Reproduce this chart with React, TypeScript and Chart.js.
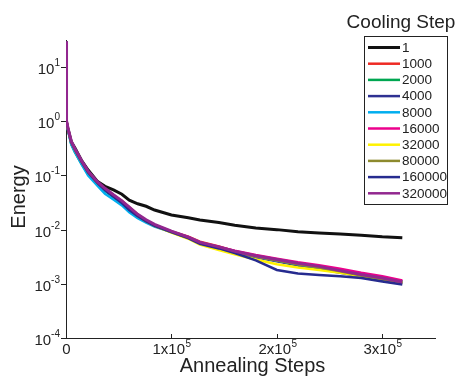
import React, { useEffect, useRef } from "react";
import { Chart, registerables } from "chart.js";

Chart.register(...registerables);

const STEPS = [0, 500, 2000, 5000, 8500, 15000, 21000, 30000, 37000, 45000, 53000, 60000, 68000, 76000, 84000, 100000, 116000, 127000, 145000, 160000, 180000, 200000, 220000, 240000, 260000, 280000, 300000, 319000];

const COOLING = ["1", "1000", "2000", "4000", "8000", "16000", "32000", "80000", "160000", "320000"];
const COLORS = ["#111111", "#ee2a24", "#00a651", "#2e3192", "#00aeef", "#ec008c", "#fff200", "#8d8a2e", "#262b8f", "#92278f"];

const E_1 = [1.0, 0.89, 0.71, 0.42, 0.32, 0.186, 0.126, 0.077, 0.063, 0.054, 0.045, 0.035, 0.030, 0.027, 0.023, 0.0186, 0.0166, 0.0151, 0.0135, 0.0120, 0.0107, 0.0100, 0.0091, 0.0087, 0.0083, 0.0079, 0.0074, 0.0071];
const E_1000 = [30, 1.0, 0.70, 0.40, 0.29, 0.172, 0.112, 0.072, 0.054, 0.042, 0.034, 0.026, 0.019, 0.0148, 0.0122, 0.0093, 0.0074, 0.0060, 0.0049, 0.0040, 0.0033, 0.0028, 0.0024, 0.0021, 0.0018, 0.00152, 0.00132, 0.00112];
const E_2000 = [30, 0.98, 0.68, 0.38, 0.27, 0.160, 0.105, 0.069, 0.052, 0.040, 0.031, 0.023, 0.0175, 0.0143, 0.0118, 0.0092, 0.0072, 0.0057, 0.0047, 0.0039, 0.0032, 0.0027, 0.0022, 0.0019, 0.0017, 0.00143, 0.00124, 0.00108];
const E_4000 = [30, 1.0, 0.70, 0.40, 0.29, 0.170, 0.110, 0.071, 0.053, 0.041, 0.031, 0.023, 0.0176, 0.0142, 0.0117, 0.0090, 0.0070, 0.0055, 0.0045, 0.0038, 0.0031, 0.0026, 0.0022, 0.0019, 0.0016, 0.00138, 0.00118, 0.00103];
const E_8000 = [30, 0.97, 0.67, 0.37, 0.27, 0.158, 0.100, 0.064, 0.046, 0.036, 0.028, 0.021, 0.0163, 0.0135, 0.0114, 0.0090, 0.0072, 0.0058, 0.0047, 0.0039, 0.0032, 0.0027, 0.0023, 0.0020, 0.0017, 0.00150, 0.00130, 0.00112];
const E_16000 = [30, 1.0, 0.71, 0.41, 0.30, 0.176, 0.114, 0.073, 0.055, 0.042, 0.032, 0.024, 0.018, 0.0146, 0.0121, 0.0092, 0.0073, 0.0058, 0.0048, 0.0041, 0.0034, 0.0029, 0.0025, 0.0022, 0.0019, 0.00160, 0.00138, 0.00115];
const E_32000 = [30, 1.0, 0.71, 0.41, 0.30, 0.178, 0.116, 0.074, 0.056, 0.043, 0.032, 0.024, 0.0178, 0.0143, 0.0117, 0.0088, 0.0068, 0.0053, 0.0042, 0.0035, 0.0028, 0.0023, 0.0020, 0.0018, 0.0016, 0.00140, 0.00122, 0.00106];
const E_80000 = [30, 1.0, 0.71, 0.41, 0.30, 0.177, 0.114, 0.073, 0.055, 0.042, 0.032, 0.024, 0.018, 0.0144, 0.0119, 0.0090, 0.0070, 0.0056, 0.0046, 0.0038, 0.0032, 0.0027, 0.0023, 0.0020, 0.0017, 0.00142, 0.00122, 0.00104];
const E_160000 = [30, 1.0, 0.71, 0.41, 0.30, 0.176, 0.113, 0.072, 0.054, 0.041, 0.031, 0.023, 0.0176, 0.0142, 0.0118, 0.0090, 0.0070, 0.0055, 0.0045, 0.0037, 0.0027, 0.0018, 0.00155, 0.00145, 0.00138, 0.00128, 0.00110, 0.00097];
const E_320000 = [30, 1.02, 0.73, 0.43, 0.31, 0.185, 0.120, 0.076, 0.058, 0.044, 0.034, 0.026, 0.0192, 0.0152, 0.0125, 0.0094, 0.0073, 0.0058, 0.0048, 0.0040, 0.0033, 0.0028, 0.0024, 0.0021, 0.00175, 0.00148, 0.00128, 0.00108];

const SERIES = [E_1, E_1000, E_2000, E_4000, E_8000, E_16000, E_32000, E_80000, E_160000, E_320000];

const Y_TICK_EXP = ["-4", "-3", "-2", "-1", "0", "1"];
const X_TICKS = [0, 100000, 200000, 300000];
const X_TICK_BASE = ["0", "1x10", "2x10", "3x10"];
const X_TICK_SUP = ["", "5", "5", "5"];

const FONT = '"Liberation Sans", Arial, sans-serif';

const decorPlugin = {
  id: "decor",
  afterDraw(chart: any) {
    const ctx = chart.ctx;
    const xs = chart.scales.x;
    const ys = chart.scales.y;
    const area = chart.chartArea;
    ctx.save();
    ctx.fillStyle = "#222";
    ctx.strokeStyle = "#222";
    ctx.lineWidth = 1;

    // y ticks + labels
    Y_TICK_EXP.forEach((e) => {
      const y = Math.round(ys.getPixelForValue(Math.pow(10, Number(e)))) + 0.5;
      ctx.beginPath();
      ctx.moveTo(area.left - 5, y);
      ctx.lineTo(area.left, y);
      ctx.stroke();
      ctx.font = "10px " + FONT;
      const supW = ctx.measureText(e).width;
      ctx.font = "15px " + FONT;
      const baseW = ctx.measureText("10").width;
      const right = area.left - 6;
      ctx.textAlign = "left";
      ctx.textBaseline = "alphabetic";
      ctx.fillText("10", right - supW - baseW, y + 6);
      ctx.font = "10px " + FONT;
      ctx.fillText(e, right - supW, y - 2);
    });

    // x ticks + labels
    X_TICKS.forEach((v, i) => {
      const x = Math.round(xs.getPixelForValue(v)) + 0.5;
      if (i > 0) {
        ctx.beginPath();
        ctx.moveTo(x, area.bottom);
        ctx.lineTo(x, area.bottom - 4);
        ctx.stroke();
      }
      ctx.font = "15px " + FONT;
      const baseW = ctx.measureText(X_TICK_BASE[i]).width;
      ctx.font = "10px " + FONT;
      const supW = X_TICK_SUP[i] ? ctx.measureText(X_TICK_SUP[i]).width : 0;
      const start = x - (baseW + supW) / 2;
      ctx.textAlign = "left";
      ctx.font = "15px " + FONT;
      ctx.fillText(X_TICK_BASE[i], start, area.bottom + 16);
      if (X_TICK_SUP[i]) {
        ctx.font = "10px " + FONT;
        ctx.fillText(X_TICK_SUP[i], start + baseW + 0.5, area.bottom + 9);
      }
    });

    // axis titles
    ctx.font = "20px " + FONT;
    ctx.textAlign = "center";
    ctx.fillText("Annealing Steps", (area.left + area.right) / 2 + 2, area.bottom + 34);
    ctx.save();
    ctx.translate(25, 197);
    ctx.rotate(-Math.PI / 2);
    ctx.fillText("Energy", 0, 0);
    ctx.restore();

    // legend
    ctx.font = "19px " + FONT;
    ctx.textAlign = "center";
    ctx.fillText("Cooling Step", 401, 28);
    const bx = 364.5, by = 36.5, bw = 83, bh = 168;
    ctx.strokeStyle = "#222";
    ctx.lineWidth = 1;
    ctx.strokeRect(bx, by, bw, bh);
    ctx.font = "13.5px " + FONT;
    ctx.textAlign = "left";
    ctx.textBaseline = "middle";
    chart.data.datasets.forEach((ds: any, i: number) => {
      const y = 47.5 + i * 16.2;
      ctx.strokeStyle = ds.borderColor;
      ctx.lineWidth = i === 0 ? 3 : 2.5;
      ctx.beginPath();
      ctx.moveTo(368, y);
      ctx.lineTo(400, y);
      ctx.stroke();
      ctx.fillStyle = "#222";
      ctx.fillText(ds.label, 402, y + 0.5);
    });
    ctx.restore();
  },
};

export default function App() {
  const ref = useRef<HTMLCanvasElement | null>(null);
  useEffect(() => {
    document.body.style.margin = "0";
    const canvas = ref.current;
    if (!canvas) return;
    const datasets = SERIES.map((vals, i) => ({
      label: COOLING[i],
      data: STEPS.map((s, j) => ({ x: s, y: vals[j] })),
      borderColor: COLORS[i],
      backgroundColor: COLORS[i],
      borderWidth: i === 0 ? 3 : i === 9 ? 3 : 2.5,
      pointRadius: 0,
      tension: 0,
      fill: false,
      order: 10 - i,
    }));
    const chart = new Chart(canvas, {
      type: "line",
      data: { datasets },
      plugins: [decorPlugin],
      options: {
        animation: false,
        responsive: false,
        maintainAspectRatio: false,
        layout: { padding: { top: 40, right: 23, left: 0, bottom: 0 } },
        plugins: { legend: { display: false }, tooltip: { enabled: false } },
        scales: {
          x: {
            type: "linear",
            min: 0,
            max: 350000,
            grid: { display: false },
            ticks: { display: false },
            border: { display: true, color: "#222", width: 1 },
            afterFit: (s: any) => { s.height = 45; },
          },
          y: {
            type: "logarithmic",
            min: 0.0001,
            max: 31.6,
            grid: { display: false },
            ticks: { display: false },
            border: { display: true, color: "#222", width: 1 },
            afterFit: (s: any) => { s.width = 66; },
          },
        },
      },
    } as any);
    return () => chart.destroy();
  }, []);
  return (
    <div style={{ width: 458, height: 383, background: "#fff" }}>
      <canvas ref={ref} width={458} height={383} style={{ display: "block" }} />
    </div>
  );
}
